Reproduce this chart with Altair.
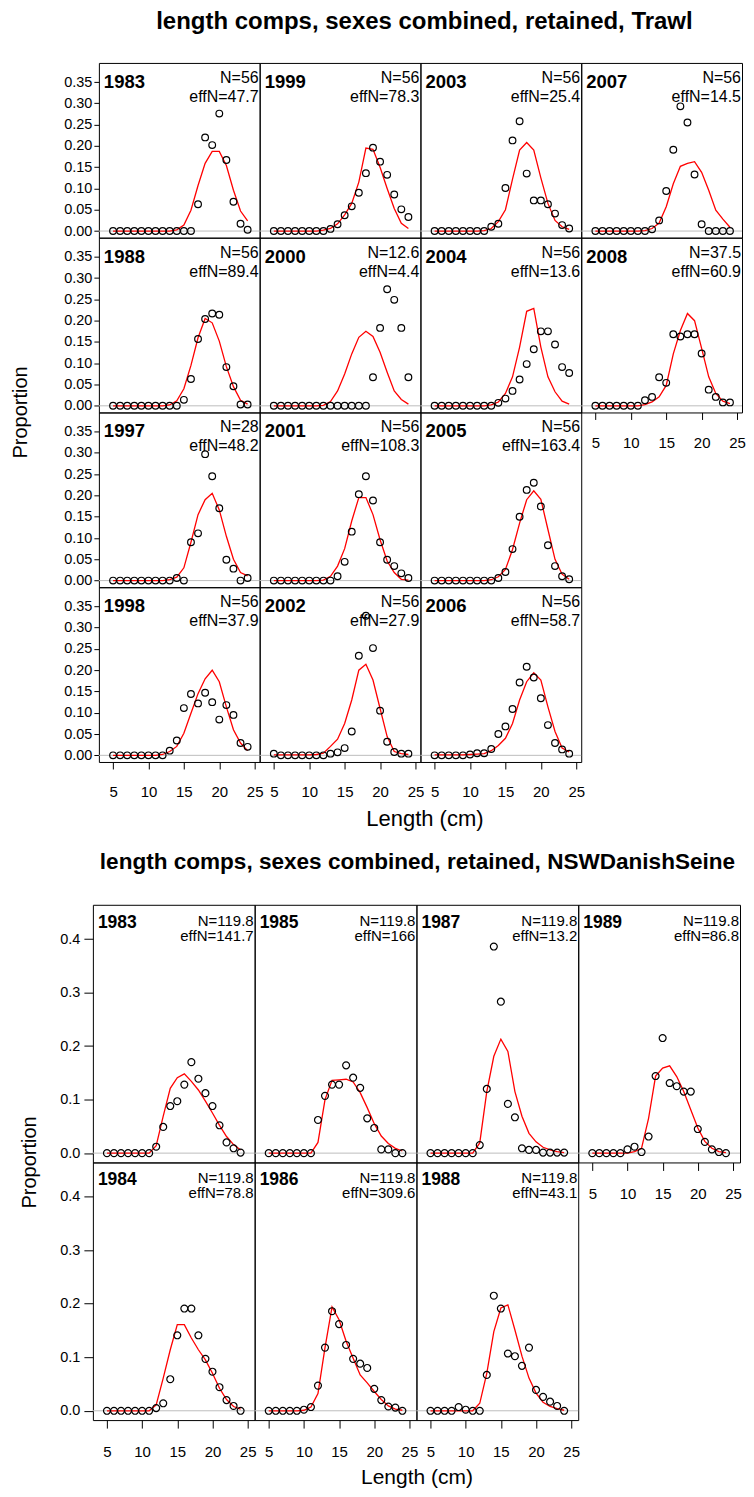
import altair as alt
import pandas as pd

FONT = "Liberation Sans"
LENGTHS = list(range(5, 25))
X_TICKS = [5, 10, 15, 20, 25]

# ---------------- Trawl fleet (observed = circles, expected = red line) ----------------
trawl_1983_obs = [0,0,0,0,0,0,0,0,0,0,0,0,0.063,0.220,0.202,0.276,0.167,0.069,0.017,0.003]
trawl_1983_exp = [0,0,0,0,0,0,0,0,0,0.003,0.014,0.049,0.107,0.159,0.187,0.187,0.154,0.096,0.047,0.024]
trawl_1999_obs = [0,0,0,0,0,0,0,0,0.005,0.016,0.037,0.058,0.090,0.136,0.196,0.163,0.132,0.086,0.051,0.033]
trawl_1999_exp = [0,0,0,0,0,0,0,0.002,0.006,0.017,0.038,0.065,0.115,0.195,0.192,0.150,0.100,0.053,0.018,0.006]
trawl_2003_obs = [0,0,0,0,0,0,0,0,0.010,0.017,0.101,0.213,0.258,0.135,0.072,0.072,0.063,0.041,0.014,0.006]
trawl_2003_exp = [0,0,0,0,0,0,0,0.001,0.006,0.022,0.050,0.122,0.190,0.208,0.190,0.125,0.065,0.025,0.010,0.004]
trawl_2007_obs = [0,0,0,0,0,0,0,0,0.004,0.025,0.094,0.191,0.293,0.255,0.133,0.016,0,0,0,0]
trawl_2007_exp = [0,0,0,0,0,0,0,0.001,0.006,0.019,0.057,0.111,0.152,0.159,0.163,0.138,0.096,0.049,0.028,0.009]
trawl_1988_obs = [0,0,0,0,0,0,0,0,0,0,0.014,0.063,0.157,0.204,0.217,0.214,0.091,0.046,0.003,0.003]
trawl_1988_exp = [0,0,0,0,0,0,0,0,0.002,0.012,0.040,0.095,0.160,0.205,0.195,0.152,0.092,0.045,0.013,0.004]
trawl_2000_obs = [0,0,0,0,0,0,0,0,0,0,0,0,0,0,0.067,0.183,0.274,0.249,0.183,0.067]
trawl_2000_exp = [0,0,0,0,0,0,0,0.001,0.010,0.035,0.075,0.122,0.161,0.175,0.163,0.126,0.079,0.035,0.015,0.004]
trawl_2004_obs = [0,0,0,0,0,0,0,0,0,0.007,0.017,0.035,0.062,0.098,0.133,0.175,0.175,0.144,0.091,0.077]
trawl_2004_exp = [0,0,0,0,0,0,0,0,0.002,0.009,0.029,0.068,0.138,0.222,0.229,0.138,0.068,0.033,0.011,0.004]
trawl_2008_obs = [0,0,0,0,0,0,0,0.013,0.021,0.067,0.054,0.168,0.163,0.168,0.168,0.123,0.038,0.021,0.008,0.008]
trawl_2008_exp = [0,0,0,0,0,0,0,0.003,0.009,0.021,0.048,0.122,0.177,0.217,0.200,0.135,0.068,0.029,0.011,0.005]
trawl_1997_obs = [0,0,0,0,0,0,0,0,0,0.006,0,0.090,0.111,0.297,0.245,0.170,0.049,0.028,0,0.006]
trawl_1997_exp = [0,0,0,0,0,0,0,0,0.002,0.008,0.030,0.090,0.155,0.190,0.205,0.166,0.104,0.050,0.019,0.011]
trawl_2001_obs = [0,0,0,0,0,0,0,0,0,0.010,0.044,0.115,0.203,0.245,0.188,0.090,0.049,0.034,0.017,0.006]
trawl_2001_exp = [0,0,0,0,0,0,0,0.001,0.010,0.034,0.075,0.140,0.195,0.195,0.155,0.096,0.046,0.019,0.003,0.001]
trawl_2005_obs = [0,0,0,0,0,0,0,0,0,0.006,0.020,0.074,0.150,0.213,0.230,0.174,0.083,0.034,0.010,0.003]
trawl_2005_exp = [0,0,0,0,0,0,0,0,0.002,0.009,0.026,0.073,0.135,0.190,0.211,0.191,0.120,0.050,0.015,0.003]
trawl_1998_obs = [0,0,0,0,0,0,0,0,0.011,0.035,0.111,0.144,0.122,0.147,0.125,0.084,0.118,0.095,0.029,0.020]
trawl_1998_exp = [0,0,0,0,0,0,0,0.002,0.009,0.021,0.052,0.099,0.145,0.180,0.200,0.173,0.114,0.060,0.029,0.011]
trawl_2002_obs = [0.004,0,0,0,0,0,0,0,0.004,0.007,0.017,0.056,0.234,0.328,0.252,0.105,0.032,0.008,0.004,0.004]
trawl_2002_exp = [0.001,0.001,0.001,0.001,0.001,0.001,0.002,0.005,0.021,0.038,0.075,0.130,0.200,0.214,0.177,0.110,0.044,0.009,0.004,0.002]
trawl_2006_obs = [0,0,0,0,0,0.002,0.005,0.005,0.015,0.050,0.068,0.109,0.171,0.208,0.183,0.134,0.071,0.029,0.014,0.004]
trawl_2006_exp = [0.001,0.001,0.001,0.001,0.001,0.002,0.003,0.004,0.011,0.023,0.040,0.075,0.130,0.173,0.194,0.177,0.114,0.056,0.017,0.008]

# ---------------- NSW Danish Seine fleet ----------------
nsw_1983_obs = [0,0,0,0,0,0,0,0.012,0.049,0.088,0.097,0.128,0.170,0.139,0.112,0.088,0.052,0.020,0.009,0.001]
nsw_1983_exp = [0,0,0,0,0,0,0,0.014,0.069,0.121,0.141,0.148,0.134,0.118,0.097,0.075,0.052,0.031,0.016,0.006]
nsw_1985_obs = [0,0,0,0,0,0,0,0.062,0.107,0.128,0.128,0.164,0.141,0.122,0.065,0.047,0.007,0.007,0,0]
nsw_1985_exp = [0,0,0,0,0,0,0,0.020,0.100,0.136,0.137,0.138,0.133,0.113,0.085,0.055,0.032,0.018,0.009,0.004]
nsw_1987_obs = [0,0,0,0,0,0,0,0.015,0.120,0.386,0.283,0.092,0.067,0.009,0.006,0.006,0.001,0.001,0.001,0.001]
nsw_1987_exp = [0,0,0,0,0,0,0,0.019,0.115,0.181,0.213,0.190,0.115,0.069,0.037,0.021,0.011,0.006,0.003,0.001]
nsw_1989_obs = [0,0,0,0,0,0.007,0.012,0.002,0.031,0.144,0.215,0.131,0.125,0.115,0.115,0.045,0.021,0.007,0.002,0]
nsw_1989_exp = [0,0,0,0,0,0,0.003,0.009,0.065,0.144,0.159,0.163,0.143,0.115,0.081,0.047,0.022,0.009,0.003,0.001]
nsw_1984_obs = [0,0,0,0,0,0,0,0.005,0.014,0.059,0.141,0.191,0.191,0.141,0.097,0.073,0.044,0.020,0.009,0]
nsw_1984_exp = [0,0,0,0,0,0,0,0.011,0.061,0.114,0.161,0.161,0.136,0.114,0.095,0.070,0.042,0.021,0.008,0.003]
nsw_1986_obs = [0,0,0,0,0,0.002,0.007,0.047,0.118,0.186,0.162,0.123,0.097,0.088,0.080,0.041,0.020,0.008,0.006,0]
nsw_1986_exp = [0,0,0,0,0,0.001,0.007,0.032,0.118,0.194,0.170,0.130,0.098,0.067,0.052,0.036,0.021,0.009,0.003,0.001]
nsw_1988_obs = [0,0,0,0,0.007,0.002,0,0,0.067,0.215,0.191,0.107,0.102,0.084,0.118,0.039,0.026,0.017,0.009,0]
nsw_1988_exp = [0,0,0,0,0,0,0,0.014,0.070,0.148,0.192,0.198,0.151,0.102,0.061,0.033,0.016,0.008,0.004,0.001]

TOP = dict(w=161, h=175, xdom=[3.0, 25.7], ydom=[-0.0156, 0.395],
           yvals=[0, 0.05, 0.10, 0.15, 0.20, 0.25, 0.30, 0.35], yfmt=".2f",
           ytick=5, ypad=2, ylab_fs=14.5, xtick=7, xpad=16, xlab_fs=15,
           year_fs=18.5, n_fs=16, year_x=5, year_y=25, n_y=20, eff_y=39,
           pt=45, title_fs=22, xtitle_x=4, xtitle_y=57)
BOT = dict(w=162, h=258, xdom=[3.0, 26.0], ydom=[-0.0174, 0.464],
           yvals=[0, 0.1, 0.2, 0.3, 0.4], yfmt=".1f",
           ytick=9, ypad=4, ylab_fs=14.5, xtick=8, xpad=16, xlab_fs=15,
           year_fs=17.5, n_fs=15, year_x=5, year_y=23, n_y=21, eff_y=36,
           pt=48, title_fs=21, xtitle_x=0, xtitle_y=57)


def panel(year, ntxt, efftxt, obs, exp, P, show_y=False, show_x=False, xtitle=""):
    df = pd.DataFrame({"Length": LENGTHS, "obs": obs, "exp": exp})
    xs = alt.Scale(domain=P["xdom"], nice=False, zero=False)
    ys = alt.Scale(domain=P["ydom"], nice=False, zero=False)
    if show_x:
        kw = dict(values=X_TICKS, format="d", grid=False, domain=False,
                  tickSize=P["xtick"], tickColor="black", tickWidth=1,
                  labelFont=FONT, labelFontSize=P["xlab_fs"], labelColor="black",
                  labelPadding=P["xpad"], labelFlush=False, labelOverlap=False)
        if xtitle:
            kw.update(title=xtitle, titleFont=FONT, titleFontSize=P["title_fs"],
                      titleFontWeight="normal", titleColor="black",
                      titleX=P["w"] + P["xtitle_x"], titleY=P["xtitle_y"], titleAlign="center",
                      titleBaseline="middle")
        else:
            kw["title"] = None
        xaxis = alt.Axis(**kw)
    else:
        xaxis = None
    if show_y:
        yaxis = alt.Axis(values=P["yvals"], format=P["yfmt"], grid=False, domain=False,
                         tickSize=P["ytick"], tickColor="black", tickWidth=1,
                         labelFont=FONT, labelFontSize=P["ylab_fs"], labelColor="black",
                         labelPadding=P["ypad"], labelFlush=False, labelOverlap=False,
                         title=None)
    else:
        yaxis = None
    x_enc = alt.X("Length:Q", scale=xs, axis=xaxis)
    rule = alt.Chart(pd.DataFrame({"zero": [0.0]})).mark_rule(
        color="#bdbdbd", strokeWidth=1).encode(y=alt.Y("zero:Q", scale=ys, axis=yaxis))
    line = alt.Chart(df).mark_line(color="#ff0000", strokeWidth=1.3).encode(
        x=x_enc, y=alt.Y("exp:Q", scale=ys, axis=yaxis))
    pts = alt.Chart(df).mark_point(shape="circle", filled=False, color="black",
                                   size=P["pt"], strokeWidth=1.2, opacity=1).encode(
        x=x_enc, y=alt.Y("obs:Q", scale=ys, axis=yaxis))
    hdr = pd.DataFrame({"year": [str(year)], "n": [ntxt], "eff": [efftxt]})
    t_year = alt.Chart(hdr).mark_text(align="left", baseline="alphabetic", font=FONT,
                                      fontSize=P["year_fs"], fontWeight="bold", color="black").encode(
        x=alt.value(P["year_x"]), y=alt.value(P["year_y"]), text="year:N")
    t_n = alt.Chart(hdr).mark_text(align="right", baseline="alphabetic", font=FONT,
                                   fontSize=P["n_fs"], color="black").encode(
        x=alt.value(P["w"] - 1), y=alt.value(P["n_y"]), text="n:N")
    t_eff = alt.Chart(hdr).mark_text(align="right", baseline="alphabetic", font=FONT,
                                     fontSize=P["n_fs"], color="black").encode(
        x=alt.value(P["w"] - 1), y=alt.value(P["eff_y"]), text="eff:N")
    return alt.layer(rule, line, pts, t_year, t_n, t_eff).properties(width=P["w"], height=P["h"])


def blank(P):
    return alt.Chart(pd.DataFrame({"t": [""]})).mark_text().encode(text="t:N").properties(
        width=P["w"], height=P["h"], view=alt.ViewBackground(stroke="transparent"))


def text_box(label, width, height, xpos, ypos, fs, bold=False, angle=0):
    kw = dict(font=FONT, fontSize=fs, color="black", align="center", baseline="middle")
    if bold:
        kw["fontWeight"] = "bold"
    if angle:
        kw["angle"] = angle
    return alt.Chart(pd.DataFrame({"t": [label]})).mark_text(**kw).encode(
        x=alt.value(xpos), y=alt.value(ypos), text="t:N").properties(
        width=width, height=height, view=alt.ViewBackground(stroke="transparent"))


T = TOP
top_cells = [
    panel(1983, "N=56", "effN=47.7", trawl_1983_obs, trawl_1983_exp, T, show_y=True),
    panel(1999, "N=56", "effN=78.3", trawl_1999_obs, trawl_1999_exp, T),
    panel(2003, "N=56", "effN=25.4", trawl_2003_obs, trawl_2003_exp, T),
    panel(2007, "N=56", "effN=14.5", trawl_2007_obs, trawl_2007_exp, T),
    panel(1988, "N=56", "effN=89.4", trawl_1988_obs, trawl_1988_exp, T, show_y=True),
    panel(2000, "N=12.6", "effN=4.4", trawl_2000_obs, trawl_2000_exp, T),
    panel(2004, "N=56", "effN=13.6", trawl_2004_obs, trawl_2004_exp, T),
    panel(2008, "N=37.5", "effN=60.9", trawl_2008_obs, trawl_2008_exp, T, show_x=True),
    panel(1997, "N=28", "effN=48.2", trawl_1997_obs, trawl_1997_exp, T, show_y=True),
    panel(2001, "N=56", "effN=108.3", trawl_2001_obs, trawl_2001_exp, T),
    panel(2005, "N=56", "effN=163.4", trawl_2005_obs, trawl_2005_exp, T),
    blank(T),
    panel(1998, "N=56", "effN=37.9", trawl_1998_obs, trawl_1998_exp, T, show_y=True, show_x=True),
    panel(2002, "N=56", "effN=27.9", trawl_2002_obs, trawl_2002_exp, T, show_x=True, xtitle="Length (cm)"),
    panel(2006, "N=56", "effN=58.7", trawl_2006_obs, trawl_2006_exp, T, show_x=True),
]

B = BOT
bot_cells = [
    panel(1983, "N=119.8", "effN=141.7", nsw_1983_obs, nsw_1983_exp, B, show_y=True),
    panel(1985, "N=119.8", "effN=166", nsw_1985_obs, nsw_1985_exp, B),
    panel(1987, "N=119.8", "effN=13.2", nsw_1987_obs, nsw_1987_exp, B),
    panel(1989, "N=119.8", "effN=86.8", nsw_1989_obs, nsw_1989_exp, B, show_x=True),
    panel(1984, "N=119.8", "effN=78.8", nsw_1984_obs, nsw_1984_exp, B, show_y=True, show_x=True),
    panel(1986, "N=119.8", "effN=309.6", nsw_1986_obs, nsw_1986_exp, B, show_x=True, xtitle="Length (cm)"),
    panel(1988, "N=119.8", "effN=43.1", nsw_1988_obs, nsw_1988_exp, B, show_x=True),
]

grid1 = alt.concat(*top_cells, columns=4, spacing=0, bounds="flush")
grid2 = alt.concat(*bot_cells, columns=4, spacing=0, bounds="flush")

title1 = text_box("length comps, sexes combined, retained, Trawl", 730, 51, 416, 12, 24, bold=True)
sec1 = alt.hconcat(text_box("Proportion", 53, 700, 12, 350, 20, angle=270), grid1, spacing=0)
title2 = text_box("length comps, sexes combined, retained, NSWDanishSeine", 730, 71, 409, 30.5, 22.6, bold=True)
sec2 = alt.hconcat(text_box("Proportion", 49, 516, 21, 258, 20, angle=270), grid2, spacing=0)

chart = alt.vconcat(title1, sec1, title2, sec2, spacing=0).properties(padding=0).configure(
    font=FONT).configure_view(stroke="black", strokeWidth=1)

chart.save("out.html", embed_options={"renderer": "svg", "actions": False})
